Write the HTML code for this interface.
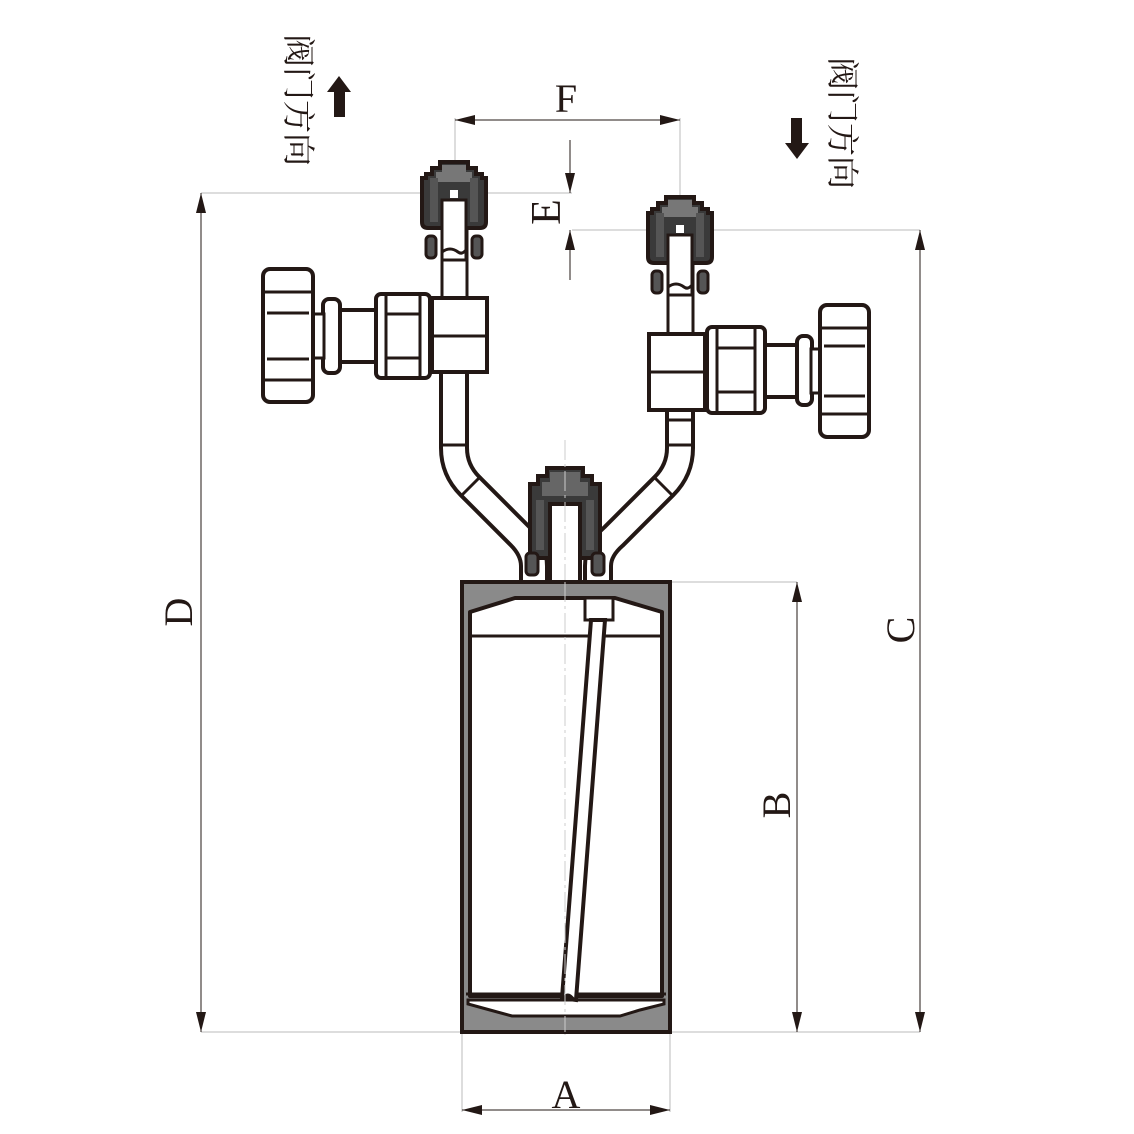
<!DOCTYPE html>
<html><head><meta charset="utf-8"><style>
html,body{margin:0;padding:0;background:#fff;}
svg{display:block}
text{font-family:"Liberation Serif","Noto Serif CJK SC",serif;fill:#231815}
</style></head><body>
<svg width="1134" height="1134" viewBox="0 0 1134 1134" xmlns="http://www.w3.org/2000/svg">
<defs>
<marker id="ar" viewBox="0 0 20 10" refX="20" refY="5" markerWidth="20" markerHeight="10" markerUnits="userSpaceOnUse" orient="auto-start-reverse"><path d="M0,0 L20,5 L0,10 Z" fill="#231815"/></marker>
<g id="cap">
  <path d="M-14,0 H14 V6 H22 V12 H28 V16 H32 V60 Q32,66 26,66 H-26 Q-32,66 -32,60 V16 H-28 V12 H-22 V6 H-14 Z" fill="#3a3a3a" stroke="#231815" stroke-width="4"/>
  <path d="M-12,3 H12 V10 H18 V20 H-18 V10 H-12 Z" fill="#777"/>
  <rect x="-24" y="16" width="8" height="44" fill="#555"/>
  <rect x="16" y="16" width="8" height="44" fill="#555"/>
  <rect x="-28" y="74" width="10" height="22" rx="4" fill="#555" stroke="#231815" stroke-width="3"/>
  <rect x="18" y="74" width="10" height="22" rx="4" fill="#555" stroke="#231815" stroke-width="3"/>
  <rect x="-4" y="28" width="8" height="8" fill="#fff"/>
  <rect x="-12" y="38" width="24" height="60" fill="#fff" stroke="#231815" stroke-width="3"/>
  <path d="M-12,90 Q-4,84 4,90 Q8,93 12,88" fill="none" stroke="#231815" stroke-width="3"/>
</g>
</defs>

<g stroke="#bbb" stroke-width="1" fill="none">
  <line x1="201" y1="193" x2="572" y2="193"/>
  <line x1="201" y1="1032" x2="462" y2="1032"/>
  <line x1="572" y1="230" x2="920" y2="230"/>
  <line x1="670" y1="1032" x2="920" y2="1032"/>
  <line x1="670" y1="582" x2="797" y2="582"/>
  <line x1="462" y1="1032" x2="462" y2="1112"/>
  <line x1="670" y1="1032" x2="670" y2="1112"/>
  <line x1="455" y1="118" x2="455" y2="165"/>
  <line x1="680" y1="118" x2="680" y2="200"/>
</g>
<g stroke="#231815" stroke-width="1" fill="none">
  <line x1="201" y1="193" x2="201" y2="1032" marker-start="url(#ar)" marker-end="url(#ar)"/>
  <line x1="920" y1="230" x2="920" y2="1032" marker-start="url(#ar)" marker-end="url(#ar)"/>
  <line x1="797" y1="582" x2="797" y2="1032" marker-start="url(#ar)" marker-end="url(#ar)"/>
  <line x1="462" y1="1110" x2="670" y2="1110" marker-start="url(#ar)" marker-end="url(#ar)"/>
  <line x1="455" y1="120" x2="680" y2="120" marker-start="url(#ar)" marker-end="url(#ar)"/>
  <line x1="570" y1="140" x2="570" y2="193" marker-end="url(#ar)"/>
  <line x1="570" y1="280" x2="570" y2="230" marker-end="url(#ar)"/>
</g>

<text x="566" y="112" font-size="40" text-anchor="middle">F</text>
<text x="566" y="1108" font-size="40" text-anchor="middle">A</text>
<text transform="translate(192,612) rotate(-90)" font-size="40" text-anchor="middle">D</text>
<text transform="translate(560,212) rotate(-90)" font-size="42" text-anchor="middle">E</text>
<text transform="translate(914,630) rotate(-90)" font-size="40" text-anchor="middle">C</text>
<text transform="translate(790,805) rotate(-90)" font-size="40" text-anchor="middle">B</text>
<text transform="translate(287,100) rotate(90)" font-size="33" text-anchor="middle">阀门方向</text>
<text transform="translate(831,123) rotate(90)" font-size="33" text-anchor="middle">阀门方向</text>
<rect x="334" y="90" width="11" height="27" fill="#231815"/>
<path d="M327,92 L339,76 L351,92 Z" fill="#231815"/>
<rect x="791" y="118" width="11" height="28" fill="#231815"/>
<path d="M785,143 L797,159 L809,143 Z" fill="#231815"/>

<g fill="none" stroke-linejoin="round">
  <path d="M454,372 V448 Q454,470 470,486 L520,536 Q534,550 534,566 V582" stroke="#231815" stroke-width="30"/>
  <path d="M454,372 V448 Q454,470 470,486 L520,536 Q534,550 534,566 V582" stroke="#fff" stroke-width="22"/>
  <path d="M680,410 V448 Q680,470 664,486 L614,536 Q598,550 598,566 V582" stroke="#231815" stroke-width="30"/>
  <path d="M680,410 V448 Q680,470 664,486 L614,536 Q598,550 598,566 V582" stroke="#fff" stroke-width="22"/>
</g>
<g stroke="#231815" stroke-width="3">
  <line x1="440" y1="445" x2="468" y2="445"/>
  <line x1="461" y1="496" x2="481" y2="476"/>
  <line x1="666" y1="445" x2="694" y2="445"/>
  <line x1="673" y1="496" x2="653" y2="476"/>
  <line x1="666" y1="420" x2="694" y2="420"/>
</g>

<rect x="442" y="228" width="25" height="72" fill="#fff" stroke="#231815" stroke-width="3"/>
<use href="#cap" x="454" y="162"/>
<rect x="432" y="298" width="55" height="74" fill="#fff" stroke="#231815" stroke-width="4"/>
<line x1="432" y1="336" x2="487" y2="336" stroke="#231815" stroke-width="3"/>
<rect x="376" y="294" width="54" height="84" rx="5" fill="#fff" stroke="#231815" stroke-width="4"/>
<line x1="386" y1="294" x2="386" y2="378" stroke="#231815" stroke-width="3"/>
<line x1="420" y1="294" x2="420" y2="378" stroke="#231815" stroke-width="3"/>
<line x1="386" y1="314" x2="420" y2="314" stroke="#231815" stroke-width="3"/>
<line x1="386" y1="358" x2="420" y2="358" stroke="#231815" stroke-width="3"/>
<rect x="338" y="310" width="38" height="52" fill="#fff" stroke="#231815" stroke-width="4"/>
<rect x="323" y="299" width="17" height="74" rx="6" fill="#fff" stroke="#231815" stroke-width="4"/>
<rect x="312" y="314" width="12" height="44" fill="#fff" stroke="#231815" stroke-width="3"/>
<rect x="263" y="269" width="50" height="133" rx="7" fill="#fff" stroke="#231815" stroke-width="4"/>
<line x1="263" y1="292" x2="313" y2="292" stroke="#231815" stroke-width="3"/>
<line x1="263" y1="380" x2="313" y2="380" stroke="#231815" stroke-width="3"/>
<line x1="267" y1="313" x2="309" y2="313" stroke="#231815" stroke-width="3"/>
<line x1="267" y1="359" x2="309" y2="359" stroke="#231815" stroke-width="3"/>

<rect x="668" y="262" width="25" height="74" fill="#fff" stroke="#231815" stroke-width="3"/>
<use href="#cap" x="680" y="197"/>
<rect x="649" y="334" width="56" height="76" fill="#fff" stroke="#231815" stroke-width="4"/>
<line x1="649" y1="372" x2="705" y2="372" stroke="#231815" stroke-width="3"/>
<rect x="707" y="327" width="58" height="86" rx="5" fill="#fff" stroke="#231815" stroke-width="4"/>
<line x1="717" y1="327" x2="717" y2="413" stroke="#231815" stroke-width="3"/>
<line x1="755" y1="327" x2="755" y2="413" stroke="#231815" stroke-width="3"/>
<line x1="717" y1="348" x2="755" y2="348" stroke="#231815" stroke-width="3"/>
<line x1="717" y1="392" x2="755" y2="392" stroke="#231815" stroke-width="3"/>
<rect x="765" y="345" width="33" height="52" fill="#fff" stroke="#231815" stroke-width="4"/>
<rect x="797" y="336" width="15" height="69" rx="6" fill="#fff" stroke="#231815" stroke-width="4"/>
<rect x="811" y="349" width="10" height="44" fill="#fff" stroke="#231815" stroke-width="3"/>
<rect x="820" y="305" width="49" height="132" rx="7" fill="#fff" stroke="#231815" stroke-width="4"/>
<line x1="820" y1="328" x2="869" y2="328" stroke="#231815" stroke-width="3"/>
<line x1="820" y1="414" x2="869" y2="414" stroke="#231815" stroke-width="3"/>
<line x1="824" y1="346" x2="865" y2="346" stroke="#231815" stroke-width="3"/>
<line x1="824" y1="396" x2="865" y2="396" stroke="#231815" stroke-width="3"/>

<g>
  <path d="M547,468 H583 V476 H592 V484 H600 V552 Q600,558 594,558 H536 Q530,558 530,552 V484 H538 V476 H547 Z" fill="#3a3a3a" stroke="#231815" stroke-width="4"/>
  <path d="M550,472 H580 V482 H588 V496 H542 V482 H550 Z" fill="#666"/>
  <rect x="536" y="500" width="8" height="50" fill="#555"/>
  <rect x="586" y="500" width="8" height="50" fill="#555"/>
  <rect x="526" y="553" width="12" height="22" rx="4" fill="#555" stroke="#231815" stroke-width="3"/>
  <rect x="592" y="553" width="12" height="22" rx="4" fill="#555" stroke="#231815" stroke-width="3"/>
  <rect x="550" y="504" width="30" height="78" fill="#fff" stroke="#231815" stroke-width="4"/>
  <line x1="565" y1="440" x2="565" y2="1035" stroke="#ccc" stroke-width="1" stroke-dasharray="20,4,3,4"/>
</g>

<rect x="462" y="582" width="208" height="450" fill="#8a8a8a" stroke="#231815" stroke-width="4"/>
<path d="M470,612 L515,598 H615 L662,612 V996 H470 Z" fill="#fff" stroke="#231815" stroke-width="4" stroke-linejoin="round"/>
<line x1="470" y1="636" x2="662" y2="636" stroke="#231815" stroke-width="3"/>
<path d="M468,1000 H664 V1004 L640,1010 L620,1016 H512 L490,1010 L468,1004 Z" fill="#fff" stroke="#231815" stroke-width="3"/>
<line x1="466" y1="994" x2="666" y2="994" stroke="#231815" stroke-width="3"/>
<rect x="585" y="598" width="28" height="22" fill="#fff" stroke="#231815" stroke-width="3"/>
<path d="M591,620 L562,998 L576,1000 L605,620 Z" fill="#fff" stroke="#231815" stroke-width="4"/>
<path d="M562,998 Q568,988 576,1000 Z" fill="#231815"/>
<line x1="565" y1="582" x2="565" y2="1032" stroke="#ccc" stroke-width="1" stroke-dasharray="20,4,3,4"/>
</svg>
</body></html>
